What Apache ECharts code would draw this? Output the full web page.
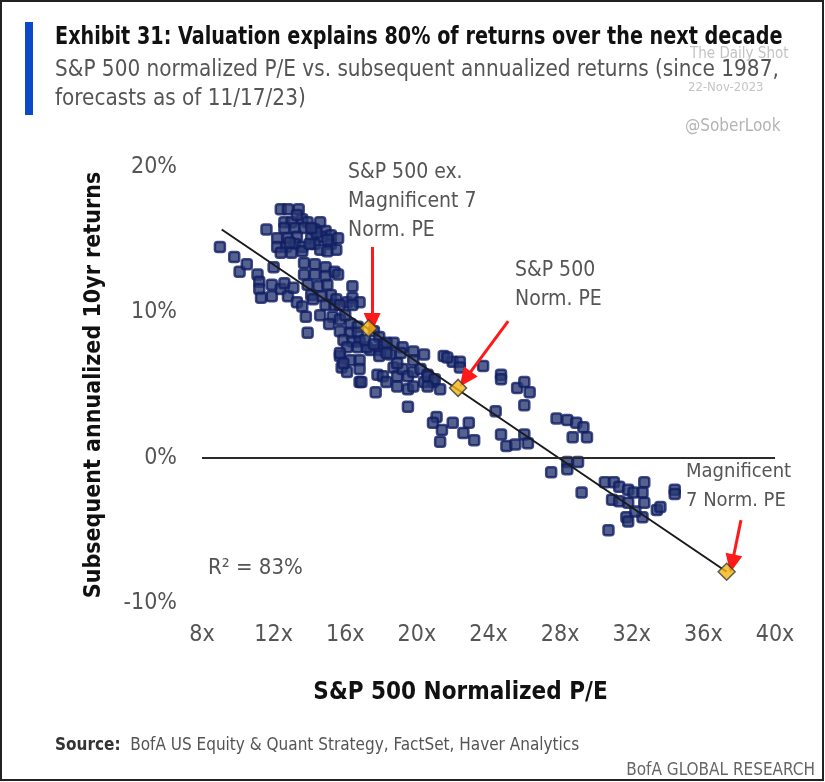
<!DOCTYPE html>
<html>
<head>
<meta charset="utf-8">
<script src="https://cdn.jsdelivr.net/npm/echarts@6/dist/echarts.min.js"></script>
<style>
  html, body { margin: 0; padding: 0; background: #fff; }
  #chart { width: 825px; height: 782px; }
</style>
</head>
<body>
<div id="chart"></div>
<script>
// historical observations: [normalized P/E, subsequent 10yr annualized return %]
const historicalPoints = [
  [9.0,14.5],[9.8,13.8],[10.1,12.8],[10.5,13.3],[11.1,12.6],[11.2,12.1],[11.2,11.6],[11.3,11.0],
  [11.9,11.9],[11.9,11.1],[12.4,11.6],[12.6,12.0],[12.8,11.1],[13.1,11.7],[13.3,10.7],[12.0,13.1],[11.6,15.7],
  [12.4,17.1],[12.8,17.1],[13.4,17.1],[12.6,16.2],[13.0,16.2],[13.6,16.4],[13.9,16.2],[14.6,16.2],
  [12.6,15.8],[13.2,15.8],[13.7,15.8],[14.3,15.7],[14.9,15.6],[12.2,15.1],[12.8,15.1],[13.3,15.2],
  [14.1,15.1],[14.7,15.2],[15.2,15.3],[12.2,14.5],[12.7,14.5],[13.2,14.7],[13.6,14.5],[14.3,14.7],
  [15.2,14.7],[15.6,15.1],[12.4,14.1],[13.0,14.1],[13.6,14.2],[14.4,15.5],[15.0,15.0],[15.5,14.3],
  [14.0,14.7],[14.6,14.3],[15.0,14.2],[13.3,16.7],[14.1,15.8],[12.9,14.8],
  [13.7,13.4],[14.3,13.3],[14.9,13.1],[15.4,12.8],[13.7,12.6],[14.3,12.6],[14.9,12.5],[15.6,12.6],
  [13.9,11.9],[14.5,11.8],[15.0,11.9],[14.1,11.2],[14.7,11.1],[15.2,11.2],[14.9,10.5],[15.4,10.5],
  [16.4,11.8],[15.5,10.9],[16.1,10.7],[16.4,11.0],[16.8,10.7],[13.6,10.4],[14.2,10.9],[15.7,10.5],[16.4,10.5],
  [13.8,9.7],[14.6,9.8],[15.3,9.7],[15.7,9.5],[13.9,8.6],[16.3,9.2],[16.7,9.0],[15.7,8.7],
  [16.3,8.6],[16.7,8.6],[17.6,8.7],[17.9,8.3],[15.9,8.1],[16.4,8.0],[16.8,8.0],[16.1,7.6],
  [16.7,7.6],[17.4,7.4],[17.9,7.4],[18.1,7.8],[18.7,7.9],[19.2,7.6],[19.8,7.3],[20.4,7.1],
  [15.7,7.0],[16.3,6.7],[16.8,6.7],[17.9,7.0],[18.5,7.1],[19.1,7.2],[15.8,6.2],[16.8,6.1],
  [16.1,5.9],[16.8,5.2],[17.8,5.7],[18.1,5.6],[18.7,6.2],[18.9,5.6],[19.2,6.1],[19.5,5.6],
  [19.8,5.9],[20.2,6.1],[20.6,5.7],[18.3,5.2],[18.9,4.9],[19.5,4.7],[19.8,4.9],[20.4,5.2],
  [17.7,4.5],[19.5,3.5],[18.3,7.2],[18.3,7.9],[18.9,6.5],[19.8,6.7],[15.9,6.5],[15.7,7.2],
  [20.9,5.2],[21.3,4.7],[17.2,7.6],[16.9,5.2],[16.0,9.8],[15.1,9.2],[17.1,8.1],[17.6,7.8],
  [21.5,7.0],[22.0,6.6],[22.4,6.6],[22.4,6.2],[23.7,6.3],[21.7,6.9],[20.6,5.6],[21.0,5.4],
  [20.6,4.9],[24.7,5.7],[24.7,5.4],[25.6,4.8],[26.0,5.2],[26.3,4.5],[26.0,3.6],[24.4,3.2],
  [21.1,2.8],[20.9,2.4],[22.0,2.4],[22.9,2.4],[21.4,1.9],[22.6,1.7],[21.3,1.1],[23.2,1.2],
  [24.7,1.6],[25.0,0.8],[25.5,0.9],[26.0,1.6],[26.2,1.0],
  [27.8,2.7],[28.4,2.6],[28.9,2.4],[29.3,2.1],[28.7,1.4],[29.5,1.4],[27.5,-1.0],[28.4,-0.3],
  [29.0,-0.3],[28.4,-0.8],[29.2,-2.4],
  [30.5,-1.7],[31.0,-1.7],[31.3,-2.0],[31.8,-2.2],[32.1,-2.4],[32.7,-1.7],[32.6,-2.4],[30.9,-2.9],
  [31.3,-3.0],[31.8,-3.1],[32.7,-3.1],[33.4,-3.6],[33.6,-3.4],[31.7,-4.1],[31.8,-4.4],[32.6,-4.1],
  [30.7,-5.0],[34.4,-2.2],[34.4,-2.5],[32.2,-3.7]
];

// forecasts as of 11/17/23
const forecastNames = ['S&P 500 ex. Magnificent 7', 'S&P 500', 'Magnificent 7'];
const forecastPE = [17.3, 22.3, 37.3];
const forecastReturn = [8.9, 4.8, -7.85];

// regression line end points
const fitPE = [9.1, 37.3];
const fitReturn = [15.7, -7.85];

// red arrows [from, to] in data units
const arrowFrom = [[17.5, 14.5], [25.1, 9.4], [38.1, -4.3]];
const arrowTo = [[17.5, 9.3], [22.7, 5.4], [37.6, -7.3]];

const xTicks = [8, 12, 16, 20, 24, 28, 32, 36, 40];
const yTicks = [-10, 0, 10, 20];

const FONT = "'DejaVu Sans Condensed', 'Liberation Sans', sans-serif";
const GRAY = '#555555';

const chart = echarts.init(document.getElementById('chart'), null, { renderer: 'canvas' });

chart.setOption({
  backgroundColor: '#ffffff',
  animation: false,
  grid: { left: 202, right: 50, top: 167, bottom: 179 },
  xAxis: {
    type: 'value',
    min: xTicks[0], max: xTicks[xTicks.length - 1], interval: 4,
    name: 'S&P 500 Normalized P/E',
    nameLocation: 'middle',
    nameGap: 78,
    nameTextStyle: { fontFamily: FONT, fontSize: 24, fontWeight: 'bold', color: '#111', padding: [0, 56, 0, 0] },
    axisLine: { show: false },
    axisTick: { show: false },
    splitLine: { show: false },
    axisLabel: { margin: 21, fontFamily: FONT, fontSize: 23, color: GRAY, formatter: v => v + 'x' },
  },
  yAxis: {
    type: 'value',
    min: yTicks[0], max: yTicks[yTicks.length - 1], interval: 10,
    name: 'Subsequent annualized 10yr returns',
    nameLocation: 'middle',
    nameGap: 96,
    nameTextStyle: { fontFamily: FONT, fontSize: 23, fontWeight: 'bold', color: '#111' },
    axisLine: { show: false },
    axisTick: { show: false },
    splitLine: { show: false },
    axisLabel: { margin: 25, fontFamily: FONT, fontSize: 23, color: GRAY, formatter: v => v + '%' },
  },
  series: [
    {
      name: 'Historical',
      type: 'scatter',
      symbol: 'roundRect',
      symbolSize: 10,
      data: historicalPoints,
      itemStyle: { color: '#2a3973', borderColor: '#101e63', borderWidth: 2.5 },
      markLine: {
        silent: true,
        symbol: 'none',
        label: { show: false },
        lineStyle: { color: '#2a2a2a', width: 2, type: 'solid' },
        data: [{ yAxis: 0 }],
      },
      z: 2,
    },
    {
      name: 'Fit',
      type: 'line',
      data: fitPE.map((x, i) => [x, fitReturn[i]]),
      showSymbol: false,
      lineStyle: { color: '#1a1a1a', width: 2 },
      z: 3,
    },
    {
      name: 'Forecasts',
      type: 'scatter',
      symbol: 'rect',
      symbolRotate: 45,
      symbolSize: 12,
      data: forecastPE.map((x, i) => ({ name: forecastNames[i], value: [x, forecastReturn[i]] })),
      itemStyle: { color: '#f2b713', borderColor: '#3a3a3a', borderWidth: 1.5 },
      markLine: {
        silent: true,
        symbol: ['none', 'triangle'],
        symbolSize: [17, 19],
        label: { show: false },
        lineStyle: { color: '#ff1a1a', width: 3, type: 'solid' },
        data: arrowFrom.map((f, i) => [{ coord: f }, { coord: arrowTo[i] }]),
      },
      z: 5,
    },
  ],
  graphic: [
    { type: 'rect', shape: { x: 1, y: 1, width: 822, height: 779 }, style: { fill: 'none', stroke: '#222', lineWidth: 2 } },
    { type: 'rect', shape: { x: 25, y: 22, width: 8, height: 93 }, style: { fill: '#0a4ac9' } },
    { type: 'text', x: 55, y: 26, scaleX: 0.89, style: { text: 'Exhibit 31: Valuation explains 80% of returns over the next decade', font: "bold 24px " + FONT, fill: '#111' } },
    { type: 'text', x: 55, y: 59, scaleX: 0.97, style: { text: 'S&P 500 normalized P/E vs. subsequent annualized returns (since 1987,', font: "23px " + FONT, fill: GRAY } },
    { type: 'text', x: 55, y: 88, scaleX: 0.97, style: { text: 'forecasts as of 11/17/23)', font: "23px " + FONT, fill: GRAY } },
    { type: 'text', x: 690, y: 47, style: { text: 'The Daily Shot', font: "15px " + FONT, fill: '#c4c4c4' } },
    { type: 'text', x: 688, y: 81, style: { text: '22-Nov-2023', font: "13px " + FONT, fill: '#c4c4c4' } },
    { type: 'text', x: 685, y: 118, style: { text: '@SoberLook', font: "17px " + FONT, fill: '#b4b4b4' } },
    { type: 'text', x: 348, y: 158, style: { text: 'S&P 500 ex.\nMagnificent 7\nNorm. PE', font: "21px " + FONT, fill: GRAY, lineHeight: 29 } },
    { type: 'text', x: 515, y: 256, style: { text: 'S&P 500\nNorm. PE', font: "21px " + FONT, fill: GRAY, lineHeight: 29 } },
    { type: 'text', x: 686, y: 457, style: { text: 'Magnificent\n7 Norm. PE', font: "20px " + FONT, fill: GRAY, lineHeight: 29 } },
    { type: 'text', x: 208, y: 557, style: { text: 'R² = 83%', font: "22px " + FONT, fill: GRAY } },
    { type: 'text', x: 55, y: 737, style: { rich: { b: { font: "bold 17px " + FONT, fill: '#333' }, n: { font: "17px " + FONT, fill: GRAY } }, text: '{b|Source:}{n|  BofA US Equity & Quant Strategy, FactSet, Haver Analytics}' } },
    { type: 'text', right: 10, top: 762, style: { text: 'BofA GLOBAL RESEARCH', font: "17px " + FONT, fill: '#666' } },
  ],
});
</script>
</body>
</html>
